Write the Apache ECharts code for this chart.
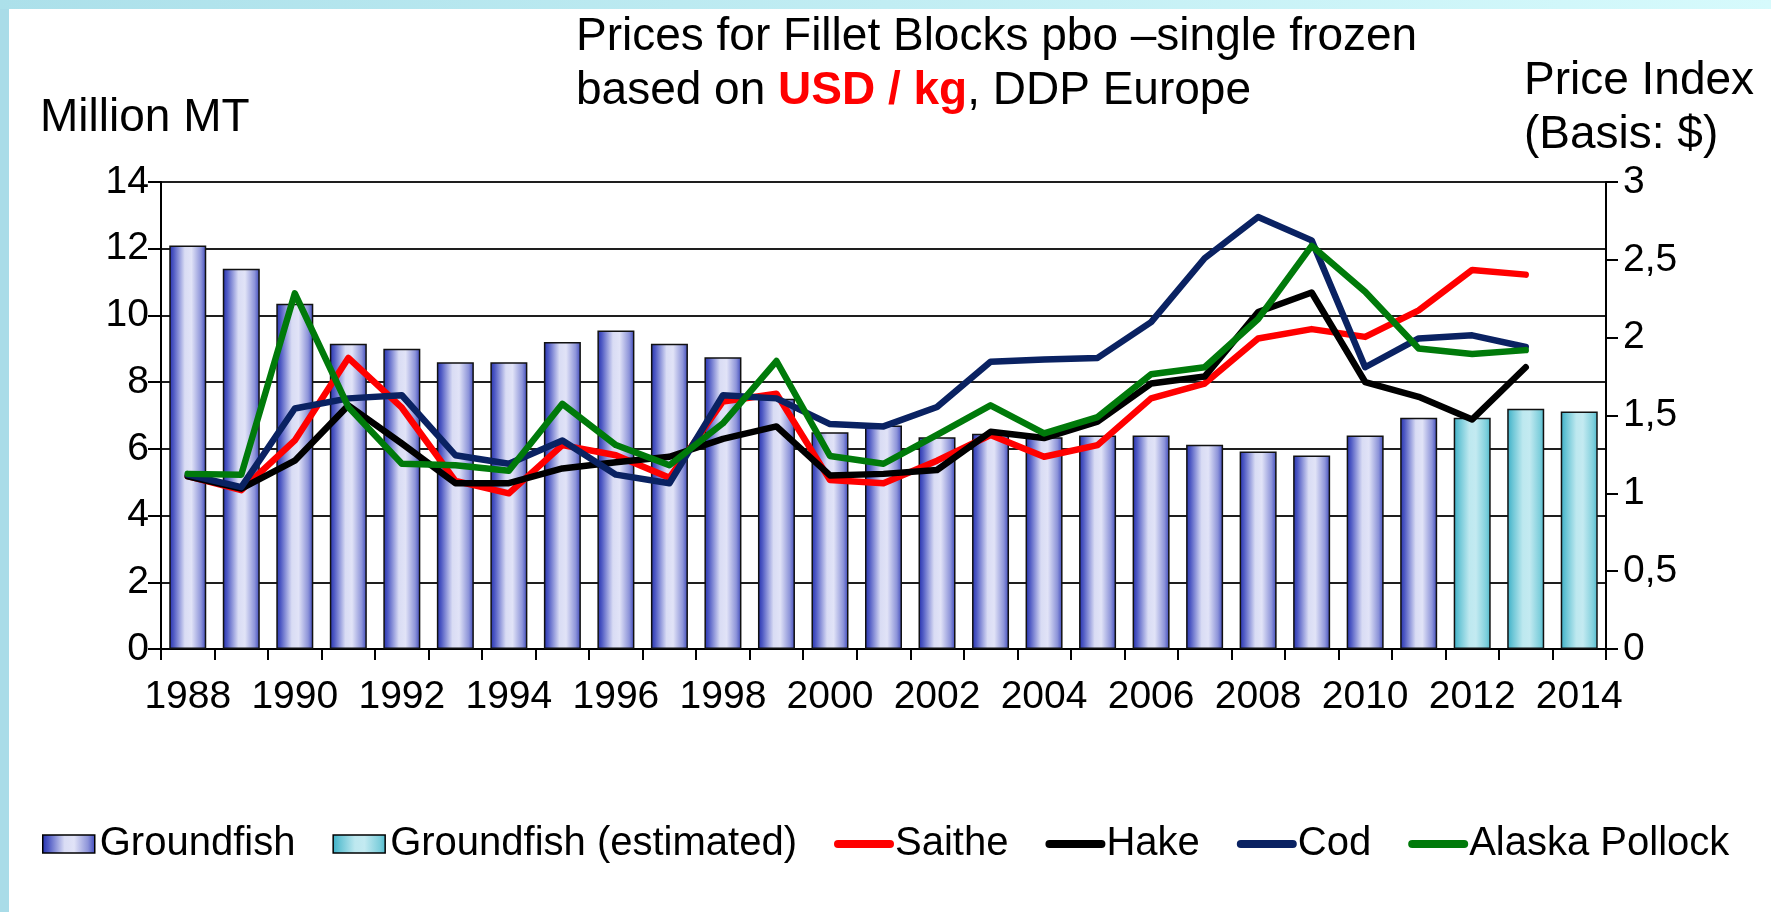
<!DOCTYPE html>
<html>
<head>
<meta charset="utf-8">
<title>Fillet Blocks prices</title>
<script src="https://cdn.jsdelivr.net/npm/echarts@6.0.0/dist/echarts.min.js"></script>
<style>
  html, body { margin: 0; padding: 0; background: #fff; }
  #chart { width: 1771px; height: 912px; }
</style>
</head>
<body>
<div id="chart"></div>
<script>
// years on the category axis
var years = ['1988', '1989', '1990', '1991', '1992', '1993', '1994', '1995', '1996', '1997',
  '1998', '1999', '2000', '2001', '2002', '2003', '2004', '2005', '2006', '2007',
  '2008', '2009', '2010', '2011', '2012', '2013', '2014']

// million MT (left axis)
var groundfish = [12.1, 11.4, 10.35, 9.15, 9.0, 8.6, 8.6, 9.2, 9.55, 9.15,
  8.75, 7.5, 6.5, 6.7, 6.35, 6.45, 6.35, 6.4, 6.4, 6.12,
  5.92, 5.8, 6.4, 6.93, null, null, null]
var groundfishEst = [null, null, null, null, null, null, null, null, null, null,
  null, null, null, null, null, null, null, null, null, null,
  null, null, null, null, 6.93, 7.2, 7.12]

// price index, USD / kg (right axis)
var saithe = [1.11, 1.02, 1.34, 1.87, 1.55, 1.08, 1.0, 1.31, 1.245, 1.1,
  1.59, 1.64, 1.085, 1.065, 1.21, 1.375, 1.235, 1.31, 1.61, 1.705,
  1.995, 2.055, 2.005, 2.175, 2.435, 2.405, null]
var hake = [1.11, 1.03, 1.21, 1.565, 1.32, 1.065, 1.065, 1.16, 1.2, 1.235,
  1.35, 1.43, 1.115, 1.125, 1.15, 1.395, 1.355, 1.46, 1.705, 1.75,
  2.165, 2.29, 1.715, 1.62, 1.475, 1.81, null]
var cod = [1.12, 1.04, 1.545, 1.61, 1.63, 1.245, 1.19, 1.34, 1.12, 1.065,
  1.63, 1.61, 1.445, 1.43, 1.555, 1.845, 1.86, 1.87, 2.1, 2.51,
  2.775, 2.625, 1.81, 1.995, 2.015, 1.94, null]
var pollock = [1.125, 1.12, 2.285, 1.555, 1.19, 1.18, 1.145, 1.575, 1.31, 1.18,
  1.45, 1.85, 1.24, 1.19, 1.375, 1.565, 1.385, 1.49, 1.765, 1.81,
  2.12, 2.59, 2.295, 1.93, 1.895, 1.92, null]

var font = 'Liberation Sans, Arial, sans-serif'

var chart = echarts.init(document.getElementById('chart'))

var blueBar = new echarts.graphic.LinearGradient(0, 0, 1, 0, [
  { offset: 0, color: '#2430ae' },
  { offset: 0.12, color: '#4f5ac4' },
  { offset: 0.42, color: '#d9dcf4' },
  { offset: 0.6, color: '#e1e3f7' },
  { offset: 0.86, color: '#8d94d9' },
  { offset: 1, color: '#3b46bb' }
])
var cyanBar = new echarts.graphic.LinearGradient(0, 0, 1, 0, [
  { offset: 0, color: '#3aaec6' },
  { offset: 0.15, color: '#6cc6d6' },
  { offset: 0.42, color: '#bde8ef' },
  { offset: 0.6, color: '#c3eaf1' },
  { offset: 0.88, color: '#7fcfdc' },
  { offset: 1, color: '#4cb8cb' }
])

function priceLine(name, data, color) {
  return {
    name: name,
    type: 'line',
    yAxisIndex: 1,
    data: data,
    symbol: 'none',
    showSymbol: false,
    lineStyle: { color: color, width: 6.5, cap: 'round', join: 'round' },
    itemStyle: { color: color }
  }
}

// legend entry for a line: thick stroke only, no dot
function lineLegend(name) {
  return { name: name, itemStyle: { opacity: 0 }, lineStyle: { width: 8, cap: 'round' } }
}

chart.setOption({
  backgroundColor: '#fff',
  animation: false,
  textStyle: { fontFamily: font },
  title: {
    left: 571,
    top: 5,
    text: 'Prices for Fillet Blocks pbo \u2013single frozen\nbased on {r|USD / kg}, DDP Europe',
    textStyle: {
      fontFamily: font,
      fontSize: 46,
      fontWeight: 'normal',
      color: '#000',
      lineHeight: 54,
      rich: {
        r: { color: '#ff0000', fontWeight: 'bold', fontSize: 46, fontFamily: font, lineHeight: 54 }
      }
    }
  },
  graphic: [
    // frame stripes of the slide
    { type: 'rect', left: 0, top: 0, z: 100, shape: { width: 9, height: 912 }, style: { fill: '#a9dce8' } },
    {
      type: 'rect', left: 0, top: 0, z: 100, shape: { width: 1771, height: 9 },
      style: {
        fill: new echarts.graphic.LinearGradient(0, 0, 1, 0, [
          { offset: 0, color: '#ace0ea' },
          { offset: 1, color: '#d6fafc' }
        ])
      }
    },
    {
      type: 'text', left: 40, top: 95,
      style: { text: 'Million MT', font: '46px ' + font, fill: '#000' }
    },
    {
      type: 'text', left: 1524, top: 54,
      style: { text: 'Price Index\n(Basis: $)', font: '46px ' + font, fill: '#000', lineHeight: 54 }
    }
  ],
  grid: { left: 161, right: 165, top: 182, bottom: 263, containLabel: false },
  legend: {
    left: 37,
    top: 819,
    itemWidth: 52,
    itemHeight: 18,
    itemGap: 37,
    textStyle: { fontFamily: font, fontSize: 40, color: '#000' },
    data: [
      { name: 'Groundfish', icon: 'rect', itemStyle: { borderColor: '#000', borderWidth: 1.5 } },
      { name: 'Groundfish (estimated)', icon: 'rect', itemStyle: { borderColor: '#000', borderWidth: 1.5 } },
      lineLegend('Saithe'),
      lineLegend('Hake'),
      lineLegend('Cod'),
      lineLegend('Alaska Pollock')
    ]
  },
  xAxis: {
    type: 'category',
    data: years,
    boundaryGap: true,
    axisLine: { lineStyle: { color: '#000', width: 2 } },
    axisTick: { show: true, interval: 0, length: 11, alignWithLabel: false, lineStyle: { color: '#000', width: 2 } },
    axisLabel: { interval: 1, fontSize: 39, color: '#000', margin: 29, fontFamily: font },
    splitLine: { show: false }
  },
  yAxis: [
    {
      type: 'value',
      min: 0,
      max: 14,
      interval: 2,
      axisLine: { show: true, lineStyle: { color: '#000', width: 2 } },
      axisTick: { show: true, length: 13, lineStyle: { color: '#000', width: 2 } },
      axisLabel: { fontSize: 39, color: '#000', margin: 12, fontFamily: font },
      splitLine: { show: true, lineStyle: { color: '#1e1e1e', width: 2 } }
    },
    {
      type: 'value',
      min: 0,
      max: 3,
      interval: 0.5,
      axisLine: { show: true, lineStyle: { color: '#000', width: 2 } },
      axisTick: { show: true, length: 12, lineStyle: { color: '#000', width: 2 } },
      axisLabel: {
        fontSize: 39,
        color: '#000',
        margin: 17,
        fontFamily: font,
        formatter: function(v) { return String(v).replace('.', ',') }
      },
      splitLine: { show: false }
    }
  ],
  series: [
    {
      name: 'Groundfish',
      type: 'bar',
      data: groundfish,
      barWidth: 37,
      barGap: '-100%',
      itemStyle: { color: blueBar, borderColor: '#111', borderWidth: 1.5 }
    },
    {
      name: 'Groundfish (estimated)',
      type: 'bar',
      data: groundfishEst,
      barWidth: 37,
      barGap: '-100%',
      itemStyle: { color: cyanBar, borderColor: '#111', borderWidth: 1.5 }
    },
    priceLine('Saithe', saithe, '#ff0000'),
    priceLine('Hake', hake, '#000000'),
    priceLine('Cod', cod, '#0a2262'),
    priceLine('Alaska Pollock', pollock, '#007a0a')
  ]
})
</script>
</body>
</html>
